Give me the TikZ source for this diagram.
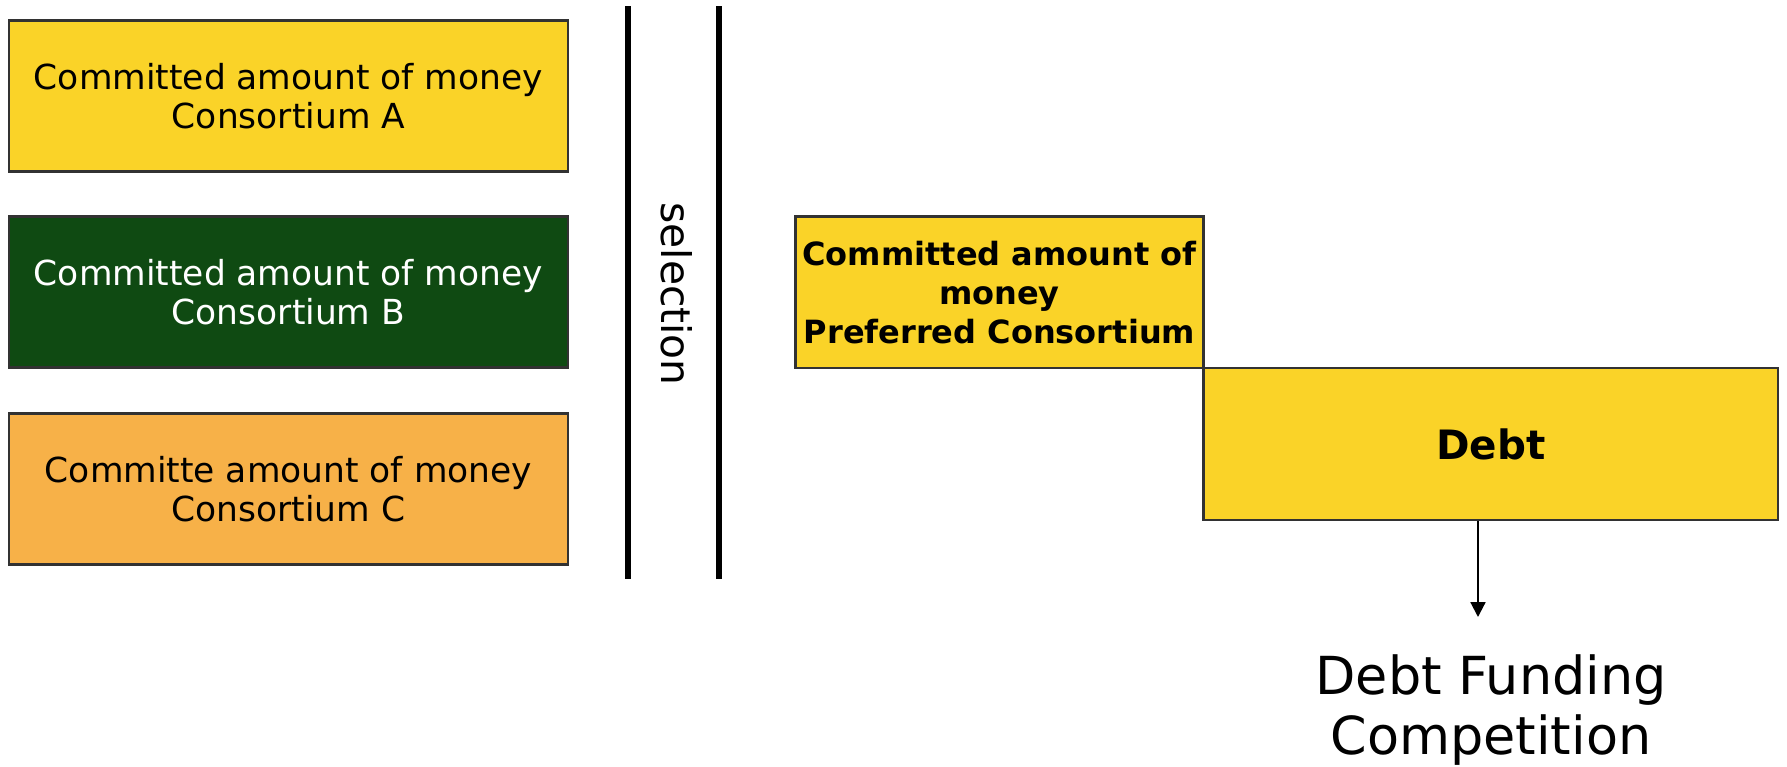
\documentclass[tikz,border=0pt]{standalone}
\usepackage{fontspec}
\setmainfont{DejaVu Sans}
\usetikzlibrary{arrows.meta}
\definecolor{boxyellow}{RGB}{250,211,40}
\definecolor{boxgreen}{RGB}{15,74,18}
\definecolor{boxorange}{RGB}{247,177,72}
\definecolor{edgegray}{RGB}{50,50,50}
\tikzset{
  consbox/.style={draw=edgegray, line width=0.7pt, minimum width=5.59cm, minimum height=1.505cm, inner sep=0pt, align=center, font=\fontsize{9.8}{11.1}\selectfont},
  prefbox/.style={draw=edgegray, line width=0.7pt, fill=boxyellow, minimum width=4.08cm, minimum height=1.515cm, inner sep=0pt, align=center, font=\bfseries\fontsize{9.1}{11.1}\selectfont},
  debtbox/.style={draw=edgegray, line width=0.7pt, fill=boxyellow, minimum width=5.745cm, minimum height=1.52cm, inner sep=0pt, align=center, font=\bfseries\fontsize{11.5}{13}\selectfont},
  sepline/.style={line width=1.5pt, black},
}
\begin{document}
\begin{tikzpicture}[x=0.01cm, y=-0.01cm]
\useasboundingbox (0,0) rectangle (1787,766);
\node[consbox, fill=boxyellow] (A) at (288.5,96) {Committed amount of money\\Consortium A};
\node[consbox, fill=boxgreen, text=white] (B) at (288.5,292) {Committed amount of money\\Consortium B};
\node[consbox, fill=boxorange] (C) at (288.5,489) {Committe amount of money\\Consortium C};
\coordinate (l1t) at (628,6);
\coordinate (l1b) at (628,579);
\coordinate (l2t) at (719,6);
\coordinate (l2b) at (719,579);
\draw[sepline] (l1t) -- (l1b);
\draw[sepline] (l2t) -- (l2b);
\node[rotate=-90, font=\fontsize{11.6}{13}\selectfont] (sel) at (677,294) {selection};
\node[prefbox] (pref) at (999.5,292.2) {Committed amount of\\money\\Preferred Consortium};
\node[debtbox] (debt) at (1490.75,444) {Debt};
\coordinate (tip) at (1478,617);
\draw[line width=0.6pt, -{Triangle[length=4.2pt, width=4.2pt]}] (tip |- debt.south) -- (tip);
\node[align=center, font=\fontsize{14.9}{16.8}\selectfont] (dfc) at (1491,710) {Debt Funding\\Competition};
\end{tikzpicture}
\end{document}
